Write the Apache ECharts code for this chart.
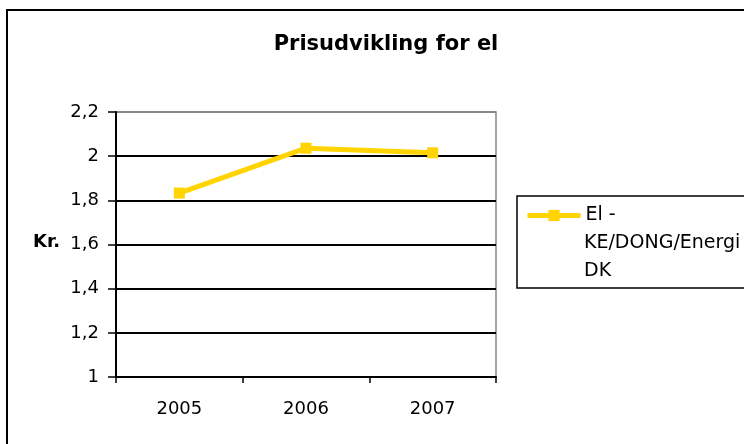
<!DOCTYPE html>
<html>
<head>
<meta charset="utf-8">
<script src="https://cdn.jsdelivr.net/npm/echarts@6/dist/echarts.min.js"></script>
<style>html,body{margin:0;padding:0;background:#fff;}#c{width:744px;height:444px;}</style>
</head>
<body>
<div id="c"></div>
<script>
var categories = ['2005', '2006', '2007'];
var seriesName = 'El - KE/DONG/Energi DK';
var legendLines = ['El -', 'KE/DONG/Energi', 'DK'];
var values = [1.833, 2.036, 2.015];
var yTicks = [1, 1.2, 1.4, 1.6, 1.8, 2, 2.2];
var titleText = 'Prisudvikling for el';
var yAxisTitle = 'Kr.';

var chart = echarts.init(document.getElementById('c'), null, {renderer: 'canvas'});
var font = '"DejaVu Sans", sans-serif';
var gold = '#FFD400';
chart.setOption({
  animation: false,
  backgroundColor: '#fff',
  title: {
    text: titleText,
    left: 381, top: 29, textAlign: 'center',
    textStyle: {fontFamily: font, fontSize: 21, fontWeight: 'bold', color: '#000'}
  },
  graphic: [
    {type: 'rect', shape: {x: 7, y: 10, width: 760, height: 460}, style: {fill: 'none', stroke: '#000', lineWidth: 2}, z: 10},
    {type: 'rect', shape: {x: 517, y: 196, width: 240, height: 92}, style: {fill: 'none', stroke: '#000', lineWidth: 1.5}, z: 10},
    {type: 'text', left: 33, top: 233, style: {text: yAxisTitle, fontFamily: font, fontSize: 18, fontWeight: 'bold', fill: '#000'}},
    {type: 'text', left: 584, top: 229, style: {text: legendLines.slice(1).join('\n'), fontFamily: font, fontSize: 19, lineHeight: 28, fill: '#000'}}
  ],
  legend: {
    left: 525, top: 206,
    itemWidth: 53, itemHeight: 14, itemGap: 0,
    padding: 0,
    data: [seriesName],
    formatter: function () { return legendLines[0]; },
    lineStyle: {width: 5, color: gold},
    itemStyle: {color: gold},
    textStyle: {fontFamily: font, fontSize: 19, color: '#000', lineHeight: 14}
  },
  grid: {left: 116, top: 112, right: 248, bottom: 67, show: true, borderColor: '#888', borderWidth: 1.5, backgroundColor: '#fff'},
  xAxis: {
    type: 'category', data: categories, boundaryGap: true,
    axisLine: {lineStyle: {color: '#000', width: 2}},
    axisTick: {show: true, length: 6, alignWithLabel: false, lineStyle: {color: '#000', width: 1.5}},
    axisLabel: {fontFamily: font, fontSize: 18, color: '#000', margin: 23}
  },
  yAxis: {
    type: 'value', min: yTicks[0], max: yTicks[yTicks.length - 1], interval: 0.2,
    axisLine: {show: true, lineStyle: {color: '#000', width: 2}},
    axisTick: {show: true, length: 8, lineStyle: {color: '#000', width: 1.5}},
    axisLabel: {fontFamily: font, fontSize: 18, color: '#000', margin: 17,
      formatter: function (v) { return String(Math.round(v * 10) / 10).replace('.', ','); }},
    splitLine: {show: true, lineStyle: {color: ['#000', '#000', '#000', '#000', '#000', '#000', '#888'], width: 2}}
  },
  series: [{
    name: seriesName, type: 'line', data: values,
    symbol: 'rect', symbolSize: 11,
    lineStyle: {color: gold, width: 5},
    itemStyle: {color: gold},
    z: 5
  }]
});
</script>
</body>
</html>
